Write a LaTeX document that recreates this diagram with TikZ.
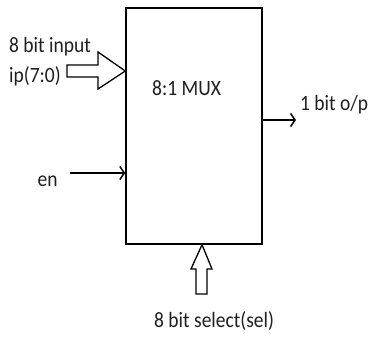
\documentclass[tikz,border=0pt]{standalone}
\usepackage{fontspec}
\setmainfont{Carlito}
\usetikzlibrary{arrows.meta}
\newcommand{\tallt}[1]{\scalebox{1}[1.12]{#1}}
\begin{document}
\begin{tikzpicture}[x=1pt,y=-1pt,
  lbl/.style={inner sep=0pt, anchor=base west, font=\fontsize{19.5}{22}\selectfont, text=black!88},
  wire/.style={line width=1.5pt, -{Straight Barb[length=4.5pt,width=13pt,line width=1.5pt]}},
  block/.style={draw, line width=1.3pt, fill=white, line join=miter},
  box/.style={draw, line width=1.5pt, minimum width=136pt, minimum height=236pt, inner sep=0pt}]
\useasboundingbox (0,0) rectangle (369,340);
\node[box] (mux) at (194,126) {};
\node[lbl] (muxl) at (152,95) {\tallt{8:1 MUX}};
% input block arrow
\coordinate (intip) at (mux.west |- 0,71);
\draw[block] (67,65) -- (98,65) -- (98,52) -- (intip) -- (98,89) -- (98,77) -- (67,77) -- cycle;
\node[lbl] (inl1) at (9,52.5) {\tallt{8 bit input}};
\node[lbl] (inl2) at (9,82) {\tallt{ip(7:0)}};
% enable
\node[lbl] (en) at (37.5,186) {\tallt{en}};
\coordinate (enin) at (mux.west |- 0,173);
\draw[wire] (70,173) -- (enin);
% output
\coordinate (outs) at (mux.east |- 0,120);
\coordinate (oute) at (296,120);
\draw[wire] (outs) -- (oute);
\node[lbl] (outl) at (300,110) {\tallt{1 bit o/p}};
% select block arrow
\coordinate (seltip) at (mux.south -| 202,0);
\draw[block] (196,294) -- (196,269) -- (191,269) -- (seltip) -- (212,269) -- (207,269) -- (207,294) -- cycle;
\node[lbl] (sell) at (154,327) {\tallt{8 bit select(sel)}};
\end{tikzpicture}
\end{document}
